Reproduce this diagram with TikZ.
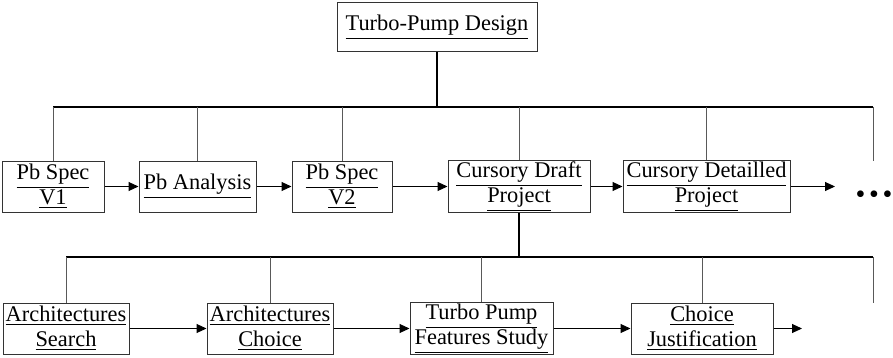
\documentclass[tikz,border=0pt]{standalone}
\usepackage{fontspec}
\setmainfont{Liberation Serif}
\usetikzlibrary{arrows.meta,positioning}
\tikzset{
  tbox/.style={draw=black!80, line width=0.5pt, align=center, font=\fontsize{11.2}{12.5}\selectfont, inner sep=0.5pt, minimum height=25.5pt},
  tarr/.style={-{Triangle[length=5pt,width=4.5pt]}, line width=0.5pt},
  tdrop/.style={draw=black!65, line width=0.5pt},
  tbus/.style={draw=black, line width=0.6pt},
  ttrunk/.style={draw=black, line width=1pt}
}

\begin{document}
\begin{tikzpicture}
\useasboundingbox (0,0) rectangle (446.5pt,-179pt);
\node[tbox, minimum width=100pt, minimum height=24.5pt] (top) at (218.5pt,-13.75pt) {\underline{Turbo-Pump Design}};
% first level
\node[tbox, minimum width=51pt] (s1) at (26.5pt,-93.25pt) {\underline{Pb Spec}\\\underline{V1}};
\node[tbox, minimum width=58.5pt, right=17pt of s1] (s2) {\underline{Pb Analysis}};
\node[tbox, minimum width=50pt, right=17.5pt of s2] (s3) {\underline{Pb Spec}\\\underline{V2}};
\node[tbox, minimum width=71pt, right=27.5pt of s3] (s4) {\underline{Cursory Draft}\\\underline{Project}};
\node[tbox, minimum width=83.5pt, right=16pt of s4] (s5) {\underline{Cursory Detailled}\\\underline{Project}};
\node[font=\fontsize{14}{14}\selectfont, inner sep=0pt] (more) at (437pt,-98.5pt) {\textbullet\hspace{1.8pt}\textbullet\hspace{1.8pt}\textbullet};
\coordinate (bus1) at (0,-53.5pt);
\coordinate (e1) at (436.5pt,-80.5pt);
\coordinate (q1) at (417.5pt,-93.25pt);
% second level
\node[tbox, minimum width=63pt] (a1) at (33pt,-164.25pt) {\underline{Architectures}\\\underline{Search}};
\node[tbox, minimum width=63pt, right=38.5pt of a1] (a2) {\underline{Architectures}\\\underline{Choice}};
\node[tbox, minimum width=71.5pt, right=38pt of a2] (a3) {\underline{Turbo Pump}\\\underline{Features Study}};
\node[tbox, minimum width=71pt, right=38.5pt of a3] (a4) {\underline{Choice}\\\underline{Justification}};
\coordinate (bus2) at (0,-128.5pt);
\coordinate (e2) at (436.5pt,-151.5pt);
\coordinate (q2) at (401pt,-164.25pt);
% tree lines
\draw[ttrunk] (top.south) -- (top.south |- bus1);
\draw[tbus] (s1 |- bus1) -- (e1 |- bus1);
\foreach \n in {s1,s2,s3,s4,s5,e1} \draw[tdrop] (\n |- bus1) -- (\n);
\draw[ttrunk] (s4.south) -- (s4.south |- bus2);
\draw[tbus] (a1 |- bus2) -- (e2 |- bus2);
\foreach \n in {a1,a2,a3,a4,e2} \draw[tdrop] (\n |- bus2) -- (\n);
% sequence arrows
\draw[tarr] (s1) -- (s2); \draw[tarr] (s2) -- (s3); \draw[tarr] (s3) -- (s4);
\draw[tarr] (s4) -- (s5); \draw[tarr] (s5) -- (q1);
\draw[tarr] (a1) -- (a2); \draw[tarr] (a2) -- (a3); \draw[tarr] (a3) -- (a4);
\draw[tarr] (a4) -- (q2);
\end{tikzpicture}
\end{document}
